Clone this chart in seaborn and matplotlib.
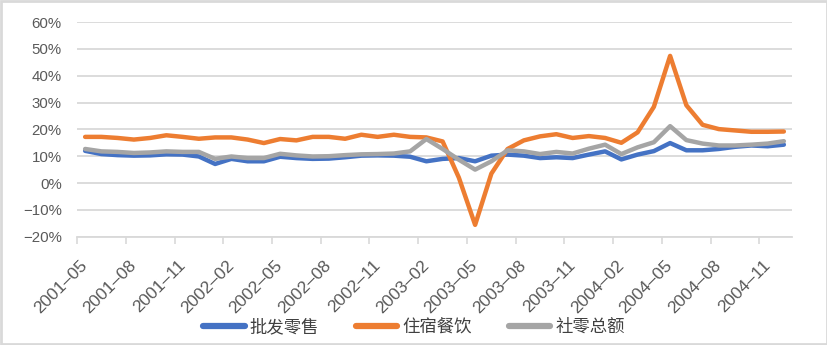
import numpy as np
import pandas as pd
import matplotlib
matplotlib.use("Agg")
import matplotlib.pyplot as plt
from matplotlib.patches import Rectangle
import seaborn as sns

# Monthly year-on-year growth (%), 2001-05 .. 2004-12
months = pd.period_range("2001-05", "2004-12", freq="M").strftime("%Y-%m").tolist()

wholesale_retail = [12.0, 10.8, 10.4, 10.2, 10.3, 10.7, 10.6, 9.9, 7.1, 9.0,
                    8.1, 8.1, 9.8, 9.3, 9.0, 9.1, 9.6, 10.2, 10.3, 10.2,
                    9.8, 8.1, 9.0, 9.3, 8.1, 10.2, 10.6, 10.2, 9.3, 9.6,
                    9.3, 10.6, 11.8, 8.8, 10.6, 11.9, 14.9, 12.2, 12.2, 12.7,
                    13.5, 14.0, 13.7, 14.3]

hotel_catering = [17.2, 17.2, 16.8, 16.2, 16.8, 17.8, 17.2, 16.5, 17.0, 17.0,
                  16.2, 14.9, 16.4, 15.9, 17.2, 17.2, 16.5, 18.0, 17.2, 18.0,
                  17.2, 17.0, 15.5, 2.0, -15.6, 3.5, 12.7, 15.9, 17.4, 18.2,
                  16.8, 17.5, 16.8, 15.0, 18.9, 28.4, 47.4, 29.0, 21.7, 20.1,
                  19.6, 19.1, 19.1, 19.2]

retail_total = [12.7, 11.8, 11.6, 11.2, 11.4, 11.8, 11.6, 11.6, 9.0, 9.9,
                9.3, 9.3, 10.9, 10.3, 9.9, 10.0, 10.4, 10.7, 10.8, 11.0,
                11.8, 16.4, 12.7, 8.7, 5.0, 8.1, 12.2, 11.8, 10.8, 11.6,
                11.0, 12.8, 14.3, 10.8, 13.3, 15.2, 21.2, 16.0, 14.7, 14.0,
                14.0, 14.3, 14.7, 15.6]

series_names = ["批发零售", "住宿餐饮", "社零总额"]
series_colors = ["#4472C4", "#ED7D31", "#A5A5A5"]

y_ticks = [-20, -10, 0, 10, 20, 30, 40, 50, 60]

df = pd.DataFrame({
    "idx": np.arange(len(months)),
    series_names[0]: wholesale_retail,
    series_names[1]: hotel_catering,
    series_names[2]: retail_total,
})
long = df.melt(id_vars="idx", var_name="series", value_name="value")

sns.set_theme(style="white")
plt.rcParams["font.family"] = ["Liberation Sans", "Noto Sans CJK SC", "DejaVu Sans"]

fig = plt.figure(figsize=(8.28, 3.45), dpi=100)
ax = fig.add_axes([0.093, 0.314, 0.8635, 0.622])

sns.lineplot(data=long, x="idx", y="value", hue="series",
             hue_order=series_names, palette=series_colors,
             linewidth=3.2, ax=ax, legend=True)

ax.set_xlim(-0.5, len(months) - 0.5)
ax.set_ylim(-20, 60)
ax.set_yticks(y_ticks)
ax.set_yticklabels([f"{v}%".replace("-", "\u2212") for v in y_ticks])
ax.grid(axis="y", color="#D9D9D9", linewidth=1.3)
ax.set_axisbelow(True)
for side in ["top", "right", "left"]:
    ax.spines[side].set_visible(False)
ax.spines["bottom"].set_color("#D9D9D9")
ax.spines["bottom"].set_linewidth(1.3)
ax.set_xlabel("")
ax.set_ylabel("")

# labels at category centres, tick marks on category boundaries
label_pos = np.arange(0, len(months), 3)
ax.set_xticks(label_pos)
ax.set_xticklabels([months[i].replace("-", "\u2013") for i in label_pos], rotation=45,
                   ha="right", va="center", rotation_mode="anchor")
ax.set_xticks(label_pos - 0.5, minor=True)
ax.tick_params(axis="x", which="major", length=0, pad=19,
               labelsize=12.5, labelcolor="#595959")
ax.tick_params(axis="x", which="minor", length=5, width=1.2,
               color="#D9D9D9", bottom=True, direction="out")
ax.tick_params(axis="y", length=0, pad=11, labelsize=10.8, labelcolor="#595959")

handles, labels = ax.get_legend_handles_labels()
ax.legend(handles, labels, loc="center", bbox_to_anchor=(0.5, 0.052),
          bbox_transform=fig.transFigure, ncol=3, frameon=False,
          prop={"family": ["Noto Sans CJK SC"], "size": 12.5},
          labelcolor="#404040", handlelength=2.4, handletextpad=0.3,
          columnspacing=2.1)
for line in ax.get_legend().get_lines():
    line.set_linewidth(4.5)
    line.set_solid_capstyle("round")

fig.patches.append(Rectangle((0.0015, 0.003), 0.997, 0.994, transform=fig.transFigure,
                             fill=False, edgecolor="#D9D9D9", linewidth=2))

fig.savefig("out.png", dpi=100)
